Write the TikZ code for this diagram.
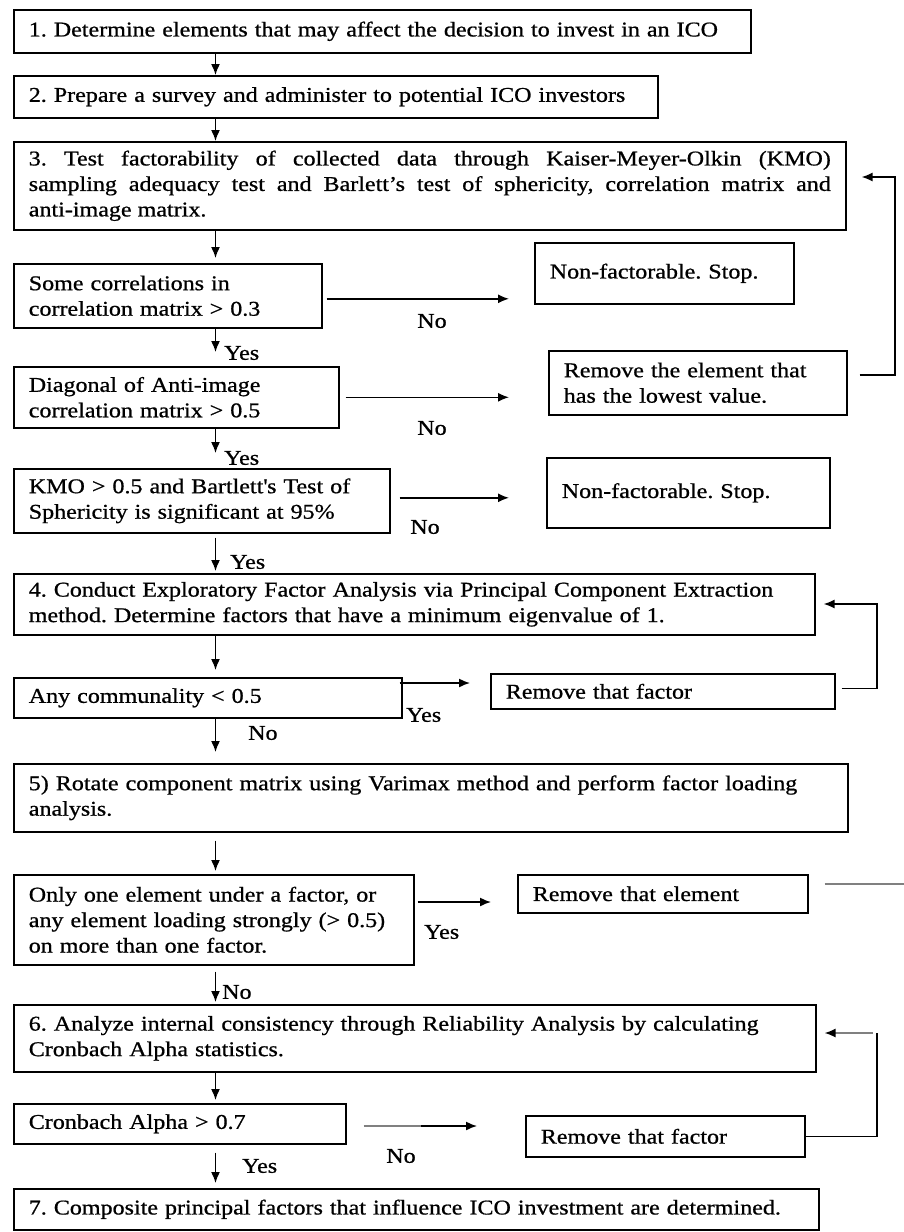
\documentclass[tikz,border=0pt]{standalone}
\usepackage{fontspec}
\setmainfont{Liberation Serif}[FakeStretch=1.145,FakeBold=0.8]
\usetikzlibrary{arrows.meta,calc}

\newcommand{\flowfont}{\fontsize{21}{25.5}\selectfont\frenchspacing}

\tikzset{
  stepbox/.style={draw, line width=1.6pt, anchor=north west, align=left,
    inner xsep=15pt, inner ysep=0pt, font=\flowfont},
  sbox/.style 2 args={stepbox, text width=#1, minimum height=#2},
  arr/.style={line width=1.5pt, -{Latex[length=11pt,width=9pt]}},
  lbl/.style={font=\flowfont, inner sep=0pt},
}

\begin{document}
\begin{tikzpicture}[x=1pt,y=-1pt]
  \useasboundingbox (0,0) rectangle (904,1232);

  % main column of steps
  \node[sbox={707pt}{43pt}] (b1) at (13,9) {1. Determine elements that may affect the decision to invest in an ICO};
  \node[sbox={614pt}{42pt}] (b2) at (13,75) {2. Prepare a survey and administer to potential ICO investors};
  \node[sbox={802pt}{88pt}, align=justify] (b3) at (13,141) {3. Test factorability of collected data through Kaiser-Meyer-Olkin (KMO)\linebreak sampling adequacy test and Barlett's test of sphericity, correlation matrix and\linebreak anti-image matrix.};

  % factorability checks
  \node[sbox={278pt}{64pt}] (c1) at (13,263) {Some correlations in\\correlation matrix > 0.3};
  \node[sbox={295pt}{61pt}] (c2) at (13,366) {Diagonal of Anti-image\\correlation matrix > 0.5};
  \node[sbox={346pt}{64pt}] (c3) at (13,468) {KMO > 0.5 and Bartlett\textquotesingle s Test of\\Sphericity is significant at 95\%};

  \node[sbox={229pt}{61pt}] (n1) at (534,242) {Non-factorable. Stop.};
  \node[sbox={268pt}{64pt}] (r1) at (548,350) {Remove the element that\\has the lowest value.};
  \node[sbox={253pt}{70pt}] (n2) at (546,457) {Non-factorable. Stop.};

  % factor analysis
  \node[sbox={771pt}{61pt}] (b4) at (13,573) {4. Conduct Exploratory Factor Analysis via Principal Component Extraction\\method. Determine factors that have a minimum eigenvalue of 1.};
  \node[sbox={358pt}{40pt}] (c4) at (13,677) {Any communality < 0.5};
  \node[sbox={314pt}{35pt}] (r2) at (490,673) {Remove that factor};

  \node[sbox={804pt}{68pt}] (b5) at (13,763) {5) Rotate component matrix using Varimax method and perform factor loading\\analysis.};
  \node[sbox={370pt}{90pt}] (c5) at (13,874) {Only one element under a factor, or\\any element loading strongly (> 0.5)\\on more than one factor.};
  \node[sbox={260pt}{38pt}] (r3) at (517,874) {Remove that element};

  % reliability
  \node[sbox={772pt}{67pt}] (b6) at (13,1004) {6. Analyze internal consistency through Reliability Analysis by calculating\\Cronbach Alpha statistics.};
  \node[sbox={302pt}{40pt}] (c6) at (13,1103) {Cronbach Alpha > 0.7};
  \node[sbox={249pt}{41pt}] (r4) at (525,1115) {Remove that factor};
  \node[sbox={775pt}{41pt}] (b7) at (13,1188) {7. Composite principal factors that influence ICO investment are determined.};

  % down arrows
  \coordinate (spine) at (215.5,0);
  \foreach \a/\b/\s/\t in {b1/b2/0pt/0pt, b2/b3/0pt/0pt, b3/c1/0pt/5pt, c1/c2/0pt/14pt,
      c2/c3/0pt/15pt, c3/b4/4pt/2pt, b4/c4/0pt/7pt, c4/b5/0pt/11pt,
      b5/c5/8pt/3pt, c5/b6/6pt/2pt, b6/c6/0pt/3pt, c6/b7/8pt/5pt}
    \draw[arr, shorten <=\s, shorten >=\t] (\a.south -| spine) -- (\b.north -| spine);

  % side arrows
  \draw[arr, shorten <=4pt, shorten >=25pt] ([yshift=-3pt]c1.east) -- ([yshift=-3pt]c1.east -| n1.west);
  \draw[arr, shorten <=6pt, shorten >=39pt] (c2.east) -- (c2.east -| r1.west);
  \draw[arr, shorten <=9pt, shorten >=37pt] ([yshift=3pt]c3.east) -- ([yshift=3pt]c3.east -| n2.west);
  \draw[arr, shorten <=-3pt, shorten >=20pt] ([yshift=-6pt]c4.north east) -- ([yshift=-6pt]c4.north east -| r2.west);
  \draw[arr, shorten <=3pt, shorten >=26pt] ([yshift=-28pt]c5.north east) -- ([yshift=-28pt]c5.north east -| r3.west);
  \coordinate (mid6) at (421,1126);
  \draw[line width=1.5pt, gray] ([xshift=17pt]c6.east |- mid6) -- (mid6);
  \draw[arr, shorten >=48pt] (mid6) -- (r4.west |- mid6);

  % feedback loops
  \coordinate (fb1) at (895,177);
  \coordinate (fb2) at (877,604);
  \coordinate (fb3) at (877,1033);
  \coordinate (off) at (910,884);
  \draw[arr, shorten >=15pt] ([xshift=12pt,yshift=8pt]r1.east) -| (fb1) -- (b3.east |- fb1);
  \draw[arr, shorten >=8pt] ([xshift=6pt,yshift=3pt]r2.east) -| (fb2) -- (b4.east |- fb2);
  \draw[line width=1.5pt] (r4.east) -| (fb3);
  \draw[arr, gray, -{Latex[length=11pt,width=9pt,color=black,fill=black]}, shorten >=8pt] ([xshift=-4pt]fb3) -- (b6.east |- fb3);
  \draw[line width=1.8pt, gray] ([xshift=16pt]r3.east |- off) -- (off);

  % yes / no labels
  \node[lbl, anchor=west] (yes1) at (224,353) {Yes};
  \node[lbl, anchor=west] (yes2) at (224,458) {Yes};
  \node[lbl, anchor=west] (yes3) at (230,562) {Yes};
  \node[lbl] (no1) at (432,321) {No};
  \node[lbl] (no2) at (432,428) {No};
  \node[lbl] (no3) at (425,527) {No};
  \node[lbl, anchor=west] (yes4) at (406,715) {Yes};
  \node[lbl, anchor=west] (no4) at (248,733) {No};
  \node[lbl, anchor=west] (no5) at (222,992) {No};
  \node[lbl, anchor=west] (yes5) at (424,932) {Yes};
  \node[lbl] (no6) at (401,1156) {No};
  \node[lbl, anchor=west] (yes6) at (242,1166) {Yes};
\end{tikzpicture}
\end{document}
